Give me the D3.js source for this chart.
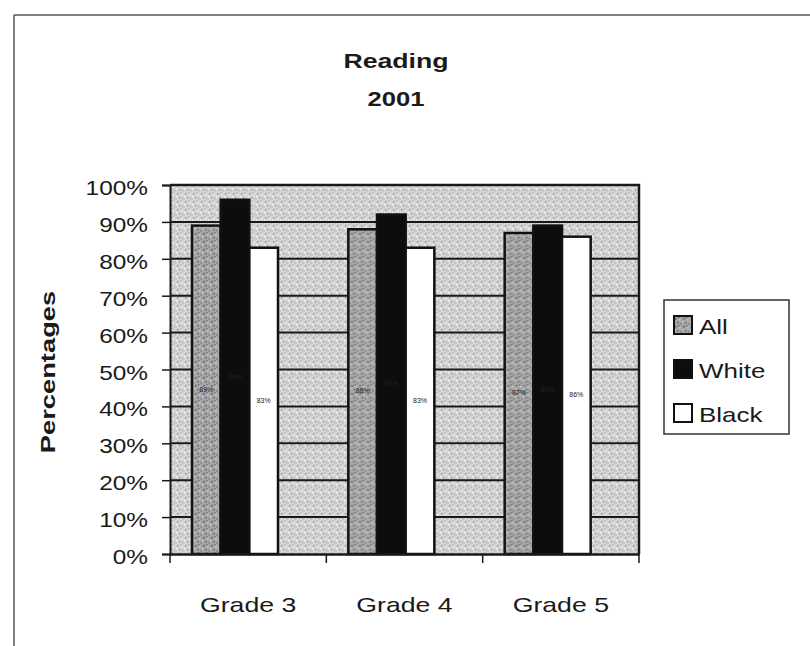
<!DOCTYPE html>
<html>
<head>
<meta charset="utf-8">
<script src="https://cdn.jsdelivr.net/npm/d3@7/dist/d3.min.js"></script>
<style>
  html, body { margin: 0; padding: 0; background: #fff; }
  svg { display: block; }
  text { font-family: "Liberation Sans", Arial, sans-serif; fill: #1a1a1a; }
</style>
</head>
<body>
<svg id="chart" width="810" height="646"></svg>
<script>
// Reading 2001 — percentage of students by grade and group
const categories = ["Grade 3", "Grade 4", "Grade 5"];
const seriesNames = ["All", "White", "Black"];
const allValues   = [89, 88, 87];
const whiteValues = [96, 92, 89];
const blackValues = [83, 83, 86];
const yTicks = [0, 10, 20, 30, 40, 50, 60, 70, 80, 90, 100];
const titleLines = ["Reading", "2001"];
const yTitle = "Percentages";

const seriesValues = { All: allValues, White: whiteValues, Black: blackValues };
const rows = categories.map((c, i) => ({
  category: c,
  values: seriesNames.map(s => ({ series: s, value: seriesValues[s][i] }))
}));

const svg = d3.select("#chart");
const SX = 1.25; // horizontal stretch of the lettering

function label(parent, x, y, txt, o = {}) {
  const g = parent.append("g")
    .attr("transform", `translate(${x},${y}) rotate(${o.rotate || 0}) scale(${o.sx || SX},1)`);
  g.append("text")
    .attr("text-anchor", o.anchor || "middle")
    .attr("dominant-baseline", o.baseline || "alphabetic")
    .attr("font-size", o.size || 21)
    .attr("font-weight", o.weight || "normal")
    .text(txt);
  return g;
}

// Stipple fills
const defs = svg.append("defs");
function stipple(id, base, dots) {
  const p = defs.append("pattern").attr("id", id)
    .attr("patternUnits", "userSpaceOnUse").attr("width", 8).attr("height", 8);
  p.append("rect").attr("width", 8).attr("height", 8).attr("fill", base);
  dots.forEach(([dx, dy, col]) =>
    p.append("rect").attr("x", dx).attr("y", dy).attr("width", 1.5).attr("height", 1.5).attr("fill", col));
}
stipple("bgFill", "#d4d4d4", [[1,1,"#929292"],[5,2,"#ededed"],[3,5,"#9c9c9c"],[6,6,"#b3b3b3"],[0,4,"#f0f0f0"],[4,0,"#b8b8b8"]]);
stipple("allFill", "#a6a6a6", [[1,1,"#5e5e5e"],[5,2,"#d0d0d0"],[3,5,"#6a6a6a"],[6,6,"#808080"],[0,4,"#c8c8c8"],[4,0,"#767676"]]);
const fills = { All: "url(#allFill)", White: "#0d0d0d", Black: "#ffffff" };

// Outer frame
svg.append("line").attr("x1", 14).attr("x2", 810).attr("y1", 15).attr("y2", 15)
  .attr("stroke", "#555").attr("stroke-width", 1.5);
svg.append("line").attr("x1", 14).attr("x2", 14).attr("y1", 15).attr("y2", 646)
  .attr("stroke", "#555").attr("stroke-width", 1.5);

// Plot geometry
const plot = { left: 170, right: 639, top: 185, bottom: 554 };
const x = d3.scaleBand().domain(categories).range([plot.left, plot.right]);
const xs = d3.scaleBand().domain(seriesNames).range([22, 108]);
const y = d3.scaleLinear().domain([0, 100]).range([plot.bottom, plot.top]);

// Background
svg.append("rect").attr("x", plot.left).attr("y", plot.top)
  .attr("width", plot.right - plot.left).attr("height", plot.bottom - plot.top)
  .attr("fill", "url(#bgFill)");

// Horizontal gridlines
svg.append("g").selectAll("line").data(yTicks.filter(t => t > 0 && t < 100)).join("line")
  .attr("x1", plot.left).attr("x2", plot.right)
  .attr("y1", d => y(d)).attr("y2", d => y(d))
  .attr("stroke", "#1a1a1a").attr("stroke-width", 2);

// Plot frame (top and right)
svg.append("path")
  .attr("d", `M${plot.left},${plot.top}H${plot.right}V${plot.bottom}`)
  .attr("fill", "none").attr("stroke", "#1a1a1a").attr("stroke-width", 2.5);

// Bars
const groups = svg.append("g").selectAll("g").data(rows).join("g")
  .attr("transform", d => `translate(${x(d.category)},0)`);
groups.selectAll("rect").data(d => d.values).join("rect")
  .attr("x", d => xs(d.series))
  .attr("width", xs.bandwidth())
  .attr("y", d => y(d.value))
  .attr("height", d => y(0) - y(d.value))
  .attr("fill", d => fills[d.series])
  .attr("stroke", "#111").attr("stroke-width", 2.5);

// Value labels at the middle of each bar
groups.selectAll("text.val").data(d => d.values).join("text")
  .attr("class", "val")
  .attr("x", d => xs(d.series) + xs.bandwidth() / 2)
  .attr("y", d => y(d.value / 2))
  .attr("text-anchor", "middle")
  .attr("dominant-baseline", "middle")
  .attr("font-size", 7)
  .style("fill", "#222")
  .text(d => d.value + "%");

// Y axis
const yAxis = svg.append("g").attr("transform", `translate(${plot.left},0)`)
  .call(d3.axisLeft(y).tickValues(yTicks).tickSize(8).tickFormat(""));
yAxis.select(".domain").attr("stroke", "#1a1a1a").attr("stroke-width", 2);
yAxis.selectAll(".tick line").attr("stroke", "#1a1a1a").attr("stroke-width", 1.5);
yTicks.forEach(t => label(svg, 148, y(t) + 10, t + "%", { anchor: "end", size: 20, sx: 1.22 }));

// X axis
const xAxis = svg.append("g").attr("transform", `translate(0,${plot.bottom})`)
  .call(d3.axisBottom(x).tickSize(0).tickFormat(""));
xAxis.select(".domain").attr("stroke", "#1a1a1a").attr("stroke-width", 2.5);
const bounds = categories.map(c => x(c)).concat([plot.right]);
svg.append("g").selectAll("line").data(bounds).join("line")
  .attr("x1", d => d).attr("x2", d => d)
  .attr("y1", plot.bottom).attr("y2", plot.bottom + 9)
  .attr("stroke", "#1a1a1a").attr("stroke-width", 1.5);
categories.forEach(c => label(svg, x(c) + x.bandwidth() / 2, 612, c, { size: 21, sx: 1.27 }));

// Titles
label(svg, 396, 68, titleLines[0], { size: 21, weight: "bold", sx: 1.27 });
label(svg, 396, 106, titleLines[1], { size: 21, weight: "bold", sx: 1.22 });
label(svg, 55, 372, yTitle, { size: 21, weight: "bold", rotate: -90, sx: 1.3 });

// Legend
svg.append("rect").attr("x", 664).attr("y", 300).attr("width", 125).attr("height", 134)
  .attr("fill", "#fff").attr("stroke", "#333").attr("stroke-width", 1.5);
const leg = svg.append("g").selectAll("g").data(seriesNames).join("g")
  .attr("transform", (d, i) => `translate(674,${325 + i * 44})`);
leg.append("rect").attr("x", 0).attr("y", -9).attr("width", 18).attr("height", 18)
  .attr("fill", d => fills[d]).attr("stroke", "#111").attr("stroke-width", 2);
leg.each(function(d) { label(d3.select(this), 25, 9, d, { anchor: "start", size: 20, sx: 1.3 }); });
</script>
</body>
</html>
